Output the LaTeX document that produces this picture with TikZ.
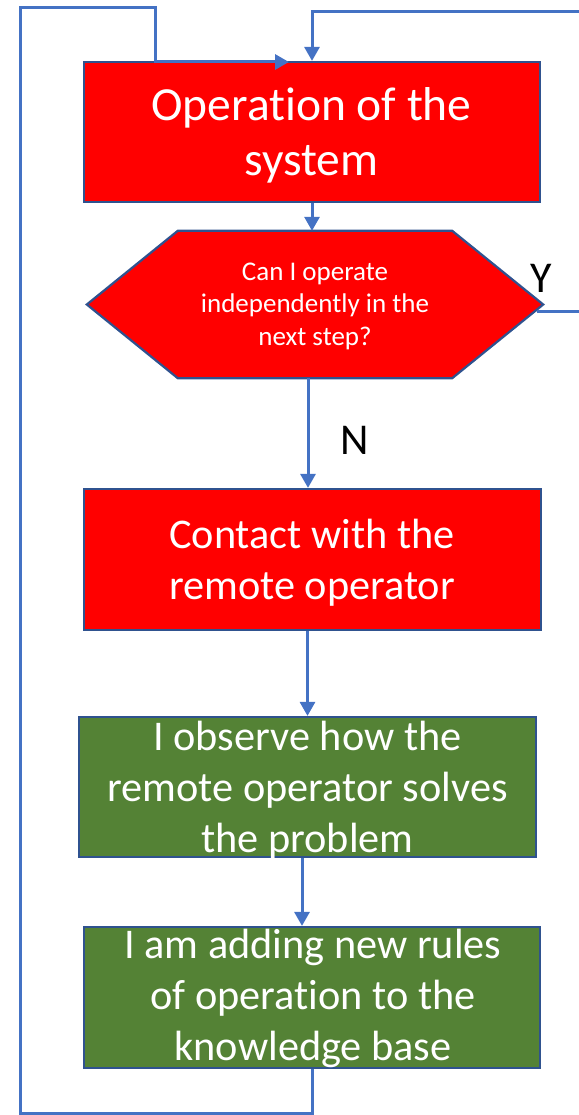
\documentclass[tikz,border=0pt]{standalone}
\usepackage{fontspec}
\setmainfont[RawFeature={-liga;-dlig;-clig}]{Carlito}
\usetikzlibrary{arrows.meta}
\definecolor{lineblue}{HTML}{4472C4}
\definecolor{edgeblue}{HTML}{2F528F}
\definecolor{boxred}{HTML}{FF0000}
\definecolor{boxgreen}{HTML}{548235}
\begin{document}
\begin{tikzpicture}[x=1pt,y=-1pt,
 box/.style={draw=edgeblue, line width=2.2pt, inner sep=0pt, minimum width=456pt, minimum height=140pt},
 redbox/.style={box, fill=boxred},
 greenbox/.style={box, fill=boxgreen},
 boxtext/.style={text=white, align=center, inner sep=0pt},
 bigtext/.style={boxtext, font=\fontsize{47.5}{55}\selectfont},
 midtext/.style={boxtext, font=\fontsize{42.3}{51}\selectfont},
 smalltext/.style={boxtext, font=\fontsize{27}{32.5}\selectfont},
 conn/.style={draw=lineblue, line width=3pt},
 arr/.style={conn, -{Triangle[width=15pt,length=14pt]}},
 lbl/.style={font=\fontsize{44}{50}\selectfont, text=black, anchor=base, inner sep=0pt}
]
\useasboundingbox (0,0) rectangle (578,1115);

% boxes
\node[redbox] (op) at (312,132) {};
\node[bigtext] (optext) at (311.5,135.5) {Operation of the\\system};

\node[minimum width=456pt, minimum height=147pt, inner sep=0pt] (hex) at (315,304.5) {};
\draw[draw=edgeblue, line width=2.2pt, fill=boxred]
  ([xshift=91pt]hex.north west) -- ([xshift=-91pt]hex.north east) -- (hex.east)
  -- ([xshift=-91pt]hex.south east) -- ([xshift=91pt]hex.south west) -- (hex.west) -- cycle;
\node[smalltext] (hextext) at (315,306) {Can I operate\\independently in the\\next step?};

\node[redbox, minimum width=457pt, minimum height=141pt] (contact) at (312.5,559.5) {};
\node[midtext] (contacttext) at (312,562.5) {Contact with the\\remote operator};

\node[greenbox, minimum width=457pt] (observe) at (307.5,787) {};
\node[midtext] (observetext) at (307.5,790) {I observe how the\\remote operator solves\\the problem};

\node[greenbox, minimum height=141pt] (adding) at (312,997.5) {};
\node[midtext] (addingtext) at (313,998.5) {I am adding new rules\\of operation to the\\knowledge base};

% labels
\node[lbl] (ylab) at (541,292) {Y};
\node[lbl] (nlab) at (355,454) {N};

% helper coordinates
\coordinate (nx) at (308,0);
\coordinate (ax) at (302,0);
\coordinate (rtop) at (600,12);
\coordinate (lb) at (20,1113);
\coordinate (lt) at (20,8);
\coordinate (lk) at (155,8);
\coordinate (lkd) at (155,62);
\coordinate (lend) at (289,62);

% connectors
\draw[arr] (op.south) -- (hex.north -| op.south);
\draw[arr] (hex.south -| nx) -- (contact.north -| nx);
\draw[arr] (contact.south -| observe.north) -- (observe.north);
\draw[arr] (observe.south -| ax) -- (adding.north -| ax);
\draw[arr] ([xshift=-6pt,yshift=-6.5pt]hex.east) -| (rtop) -| (op.north);
\draw[arr] (adding.south) -- (adding.south |- lb) -- (lb) -- (lt) -- (lk) -- (lkd) -- (lend);
\end{tikzpicture}
\end{document}
